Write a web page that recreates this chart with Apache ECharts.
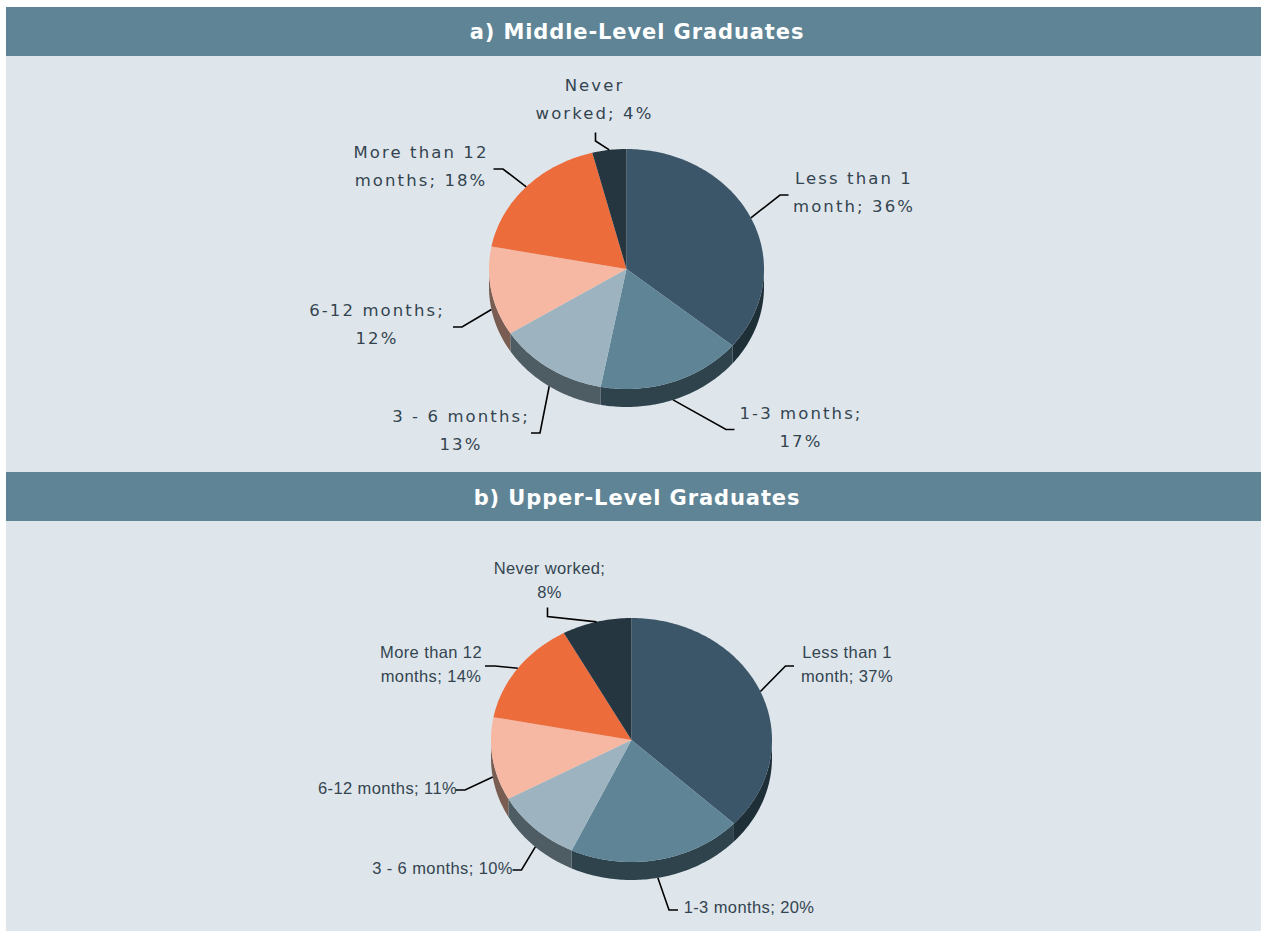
<!DOCTYPE html>
<html>
<head>
<meta charset="utf-8">
<title>Graduates pie charts</title>
<script src="https://cdn.jsdelivr.net/npm/echarts@6/dist/echarts.min.js"></script>
<style>
html, body { margin: 0; padding: 0; background: #fff; }
#chart { width: 1261px; height: 931px; }
/* zrender has no letter spacing option, so it is set on the svg text */
#chart text[style*="DejaVu"] { letter-spacing: 2.1px; }
#chart text[style*="Liberation"] { letter-spacing: 0.4px; }
#chart text[style*="bold"] { letter-spacing: 0.9px; }
</style>
</head>
<body>
<div id="chart"></div>
<script>
// a) Middle-Level Graduates
const valuesA = [36, 17, 13, 12, 18, 4];
const labelsA = ['Less than 1\nmonth; 36%', '1-3 months;\n17%', '3 - 6 months;\n13%', '6-12 months;\n12%', 'More than 12\nmonths; 18%', 'Never\nworked; 4%'];
// b) Upper-Level Graduates
const valuesB = [37, 20, 10, 11, 14, 8];
const labelsB = ['Less than 1\nmonth; 37%', '1-3 months; 20%', '3 - 6 months; 10%', '6-12 months; 11%', 'More than 12\nmonths; 14%', 'Never worked;\n8%'];

const titles = ['a) Middle-Level Graduates', 'b) Upper-Level Graduates'];

const topColors = ['#3C5669', '#5E8496', '#9DB4C0', '#F6B8A2', '#ED6C3C', '#263640'];
const wallColors = ['#1F2F38', '#2E434C', '#4E5C63', '#7A5D52', '#7A5D52', '#263640'];

// leader line elbow + end, then label centre
const layoutA = {
    cx: 626.5, cy: 269, rx: 137.5, ry: 120, depth: 18,
    font: '16.5px "DejaVu Sans"', lineHeight: 28,
    leaders: [[[780, 195], [788.5, 195]], [[726, 429.5], [734.5, 429.5]], [[540, 433], [531, 433]], [[462, 327], [453, 327]], [[503, 169], [493.5, 169]], [[595.5, 141], [595.5, 132.5]]],
    labels: [[854, 192], [801, 427], [461, 430], [377, 324], [421, 166], [594.5, 99]]
};
const layoutB = {
    cx: 631.5, cy: 740, rx: 140.5, ry: 122, depth: 18,
    font: '16.5px "Liberation Sans"', lineHeight: 24,
    leaders: [[[785.5, 666], [794, 666]], [[669, 910], [678, 910]], [[521.5, 870], [512.5, 870]], [[465, 790], [455, 790]], [[495, 666], [485, 666]], [[547.5, 616.5], [547.5, 607.5]]],
    labels: [[847, 664], [749, 907], [442.5, 868], [387.5, 788], [431, 664], [549.5, 579.5]]
};

const chart = echarts.init(document.getElementById('chart'), null, { renderer: 'svg' });

// point on the ellipse, deg is clockwise from 12 o'clock
function pt(l, deg, dy) {
    const a = deg * Math.PI / 180;
    return [l.cx + l.rx * Math.sin(a), l.cy - l.ry * Math.cos(a) + (dy || 0)];
}

function arc(l, from, to, dy) {
    const pts = [];
    const n = Math.max(2, Math.ceil(Math.abs(to - from)));
    for (let i = 0; i <= n; i++) {
        pts.push(pt(l, from + (to - from) * i / n, dy));
    }
    return pts;
}

function pieSeries(values, labels, l) {
    const total = values.reduce((s, v) => s + v, 0);
    return {
        type: 'custom',
        coordinateSystem: 'none',
        silent: true,
        animation: false,
        data: values,
        renderItem: function (params, api) {
            const i = params.dataIndex;
            let before = 0;
            for (let k = 0; k < i; k++) before += values[k];
            const a0 = before / total * 360;
            const a1 = (before + api.value(0)) / total * 360;
            const mid = (a0 + a1) / 2;
            const children = [];

            // front wall, only the part between 90 and 270 degrees shows
            const w0 = Math.max(a0, 90);
            const w1 = Math.min(a1, 270);
            if (w1 > w0) {
                children.push({
                    type: 'polygon',
                    shape: { points: arc(l, w0, w1, 0).concat(arc(l, w1, w0, l.depth)) },
                    style: { fill: wallColors[i] }
                });
            }

            children.push({
                type: 'polygon',
                shape: { points: [[l.cx, l.cy]].concat(arc(l, a0, a1, 0)) },
                style: { fill: topColors[i] }
            });

            const inFront = mid > 90 && mid < 270;
            children.push({
                type: 'polyline',
                shape: { points: [pt(l, mid, inFront ? l.depth : 0)].concat(l.leaders[i]) },
                style: { stroke: '#000', lineWidth: 1.6, fill: null }
            });

            children.push({
                type: 'text',
                x: l.labels[i][0],
                y: l.labels[i][1],
                style: {
                    text: labels[i],
                    font: l.font,
                    fill: '#34444F',
                    align: 'center',
                    verticalAlign: 'middle',
                    lineHeight: l.lineHeight
                }
            });
            return { type: 'group', children: children };
        }
    };
}

const option = {
    backgroundColor: '#fff',
    animation: false,
    title: titles.map((t, i) => ({
        text: t,
        left: 632,
        top: i === 0 ? 26.5 : 492.5,
        textAlign: 'center',
        textVerticalAlign: 'middle',
        textStyle: { color: '#fff', fontFamily: 'DejaVu Sans', fontWeight: 'bold', fontSize: 21 }
    })),
    graphic: [
        { type: 'rect', shape: { x: 6, y: 7, width: 1255, height: 924 }, style: { fill: '#DEE6EC' } },
        { type: 'rect', shape: { x: 6, y: 7, width: 1255, height: 49 }, style: { fill: '#5E8496' } },
        { type: 'rect', shape: { x: 6, y: 472, width: 1255, height: 49 }, style: { fill: '#5E8496' } }
    ],
    series: [pieSeries(valuesA, labelsA, layoutA), pieSeries(valuesB, labelsB, layoutB)]
};

chart.setOption(option);
window.addEventListener('resize', function () {
    chart.resize();
});
</script>
</body>
</html>
